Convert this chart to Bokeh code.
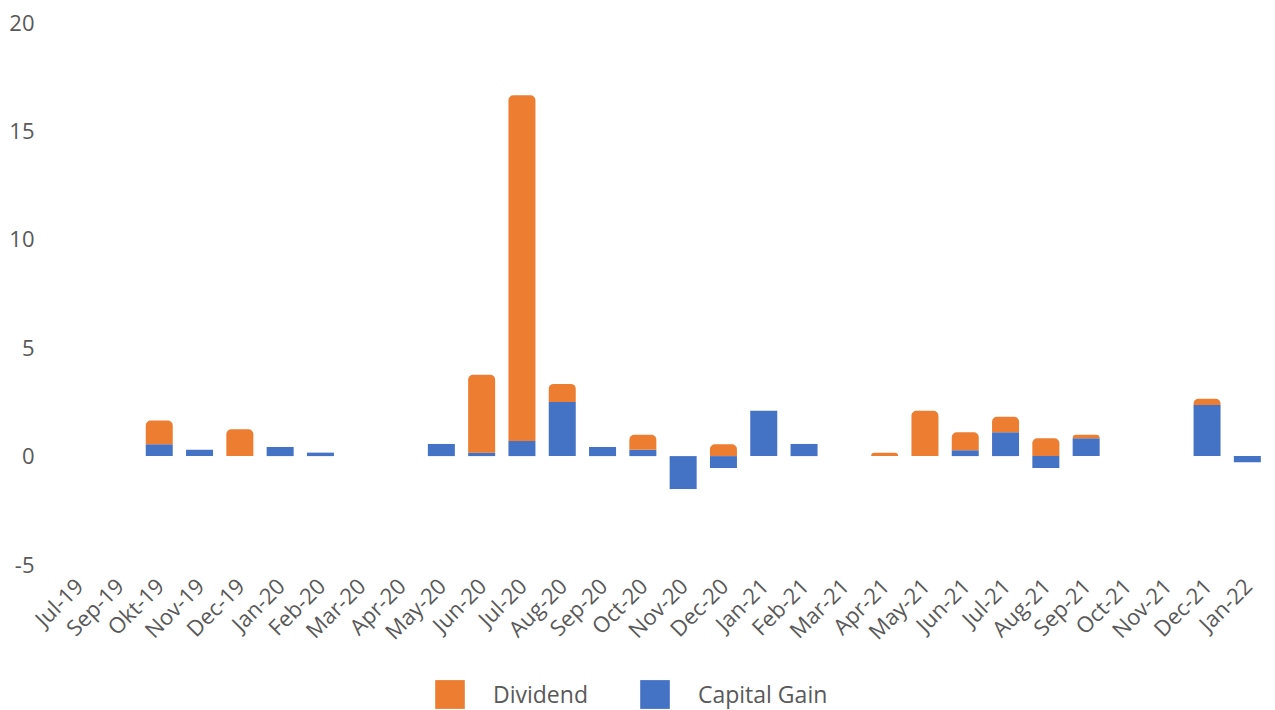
import math
from bokeh.plotting import figure
from bokeh.layouts import column
from bokeh.models import (ColumnDataSource, Legend, LegendItem, FixedTicker, Range1d,
                          PrintfTickFormatter)
from bokeh.embed import file_html
from bokeh.resources import INLINE

months = ["Jul-19", "Sep-19", "Okt-19", "Nov-19", "Dec-19", "Jan-20", "Feb-20", "Mar-20",
          "Apr-20", "May-20", "Jun-20", "Jul-20", "Aug-20", "Sep-20", "Oct-20", "Nov-20",
          "Dec-20", "Jan-21", "Feb-21", "Mar-21", "Apr-21", "May-21", "Jun-21", "Jul-21",
          "Aug-21", "Sep-21", "Oct-21", "Nov-21", "Dec-21", "Jan-22"]
capital_gain = [0, 0, 0.55, 0.29, 0, 0.42, 0.16, 0, 0, 0.56, 0.16, 0.70, 2.49, 0.42, 0.29, -1.52,
                -0.55, 2.09, 0.56, 0, 0, 0, 0.27, 1.10, -0.55, 0.82, 0, 0, 2.36, -0.28]
dividend = [0, 0, 1.09, 0, 1.24, 0, 0, 0, 0, 0, 3.59, 15.94, 0.84, 0, 0.69, 0,
            0.55, 0, 0, 0, 0.15, 2.09, 0.83, 0.71, 0.82, 0.16, 0, 0, 0.28, 0]
y_ticks = [-5, 0, 5, 10, 15, 20]
series_names = ["Dividend", "Capital Gain"]

cg_bottom = [min(v, 0) for v in capital_gain]
cg_top = [max(v, 0) for v in capital_gain]
dv_bottom = [max(v, 0) for v in capital_gain]
dv_top = [b + d for b, d in zip(dv_bottom, dividend)]

src = ColumnDataSource(dict(x=months, cgb=cg_bottom, cgt=cg_top, dvb=dv_bottom, dvt=dv_top))

ORANGE = "#ED7D31"
BLUE = "#4472C4"
TXT = "#595959"
FONT = "Open Sans"

p = figure(x_range=months, y_range=(-5, 20), width=1275, height=664,
           output_backend="svg", toolbar_location=None,
           min_border_left=58, min_border_right=8, min_border_top=22, min_border_bottom=100)

r_cg = p.vbar(x="x", bottom="cgb", top="cgt", width=0.67, source=src,
              fill_color=BLUE, line_color=None)
r_dv = p.vbar(x="x", bottom="dvb", top="dvt", width=0.67, source=src,
              fill_color=ORANGE, line_color=None, border_radius=(5, 5, 0, 0))

p.outline_line_color = None
p.xgrid.grid_line_color = None
p.ygrid.grid_line_color = None
p.x_range.range_padding = 0

p.yaxis.ticker = FixedTicker(ticks=y_ticks)
p.yaxis.formatter = PrintfTickFormatter(format="%d")
p.yaxis.axis_line_color = None
p.yaxis.major_tick_line_color = None
p.yaxis.minor_tick_line_color = None
p.yaxis.major_label_text_font = FONT
p.yaxis.major_label_text_font_size = "22px"
p.yaxis.major_label_text_color = TXT
p.yaxis.major_label_standoff = 18

p.xaxis.axis_line_color = None
p.xaxis.major_tick_line_color = None
p.xaxis.minor_tick_line_color = None
p.xaxis.major_label_orientation = math.pi / 4
p.xaxis.major_label_text_font = FONT
p.xaxis.major_label_text_font_size = "22px"
p.xaxis.major_label_text_color = TXT
p.xaxis.major_label_standoff = 11

# legend strip below the chart
lg = figure(width=1275, height=46, x_range=Range1d(0, 1), y_range=Range1d(0, 1),
            x_axis_location=None, y_axis_location=None,
            output_backend="svg", toolbar_location=None,
            min_border_left=0, min_border_right=0, min_border_top=0, min_border_bottom=0)
lg.grid.visible = False
lg.outline_line_color = None
dummy = ColumnDataSource(dict(x=[-10], b=[0], t=[0]))
l_dv = lg.vbar(x="x", bottom="b", top="t", width=0.5, source=dummy,
               fill_color=ORANGE, line_color=None)
l_cg = lg.vbar(x="x", bottom="b", top="t", width=0.5, source=dummy,
               fill_color=BLUE, line_color=None)

legend = Legend(items=[LegendItem(label=series_names[0], renderers=[l_dv]),
                       LegendItem(label=series_names[1], renderers=[l_cg])],
                orientation="horizontal", location=(373, -2))
legend.border_line_color = None
legend.background_fill_alpha = 0
legend.label_text_font = FONT
legend.label_text_font_size = "23px"
legend.label_text_color = TXT
legend.label_height = 36
legend.glyph_width = 37
legend.glyph_height = 36
legend.label_standoff = 25
legend.spacing = 48
legend.padding = 0
legend.margin = 0
lg.add_layout(legend)

layout = column(p, lg, spacing=0)
open("out.html", "w").write(file_html(layout, INLINE))
